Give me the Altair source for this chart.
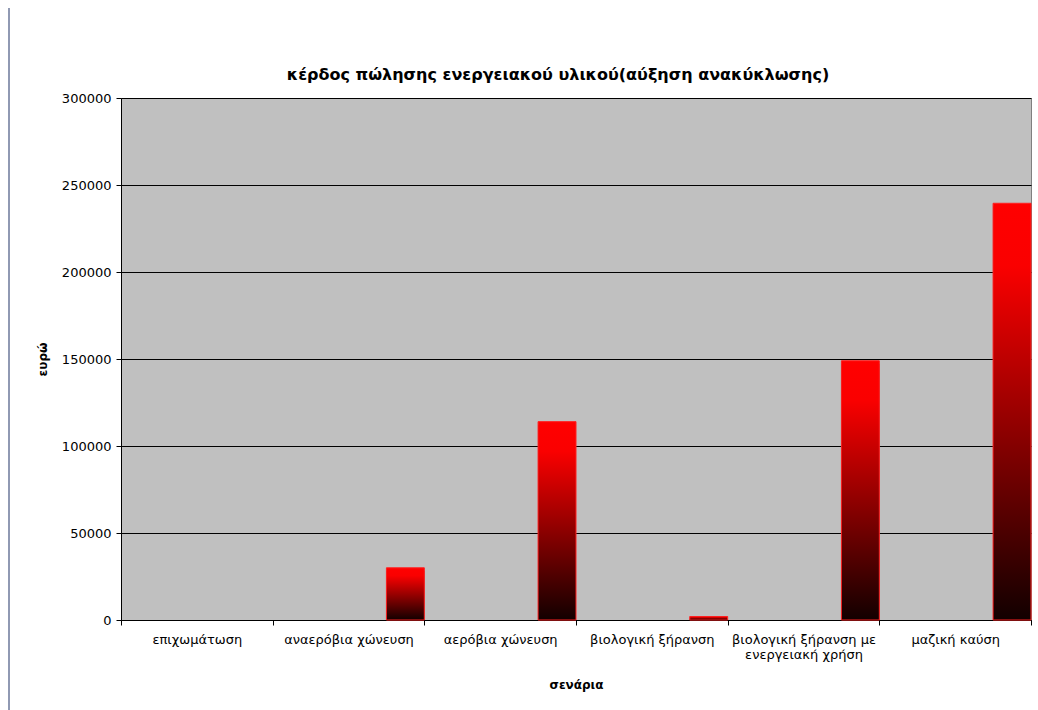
import altair as alt
import pandas as pd

categories = [
    "επιχωμάτωση",
    "αναερόβια χώνευση",
    "αερόβια χώνευση",
    "βιολογική ξήρανση",
    "βιολογική ξήρανση με ενεργειακή χρήση",
    "μαζική καύση",
]
values = [0, 30000, 114000, 2000, 149000, 239500]
series_slots = ["s1", "s2", "s3", "s4"]
series_name = "s4"
y_ticks = [0, 50000, 100000, 150000, 200000, 250000, 300000]
title_text = "κέρδος πώλησης ενεργειακού υλικού(αύξηση ανακύκλωσης)"

df = pd.DataFrame({"σενάρια": categories, "ευρώ": values, "series": series_name})

FONT = "DejaVu Sans"

x_enc = alt.X(
    "σενάρια:N",
    sort=categories,
    scale=alt.Scale(domain=categories, paddingInner=0, paddingOuter=0),
    axis=alt.Axis(
        title="σενάρια",
        titleFont=FONT,
        titleFontSize=12,
        titleFontWeight="bold",
        titleColor="black",
        titleY=59,
        titleBaseline="top",
        labelFont=FONT,
        labelFontSize=13,
        labelColor="black",
        labelAngle=0,
        labelPadding=8,
        labelLimit=300,
        labelExpr="datum.value == 'βιολογική ξήρανση με ενεργειακή χρήση' ? ['βιολογική ξήρανση με', 'ενεργειακή χρήση'] : datum.value",
        tickBand="extent",
        tickColor="black",
        tickSize=5,
        domainColor="black",
        grid=False,
    ),
)
xoff = alt.XOffset("series:N", scale=alt.Scale(domain=series_slots, paddingInner=0, paddingOuter=0))
y_enc = alt.Y(
    "ευρώ:Q",
    scale=alt.Scale(domain=[0, 300000], nice=False),
    axis=alt.Axis(
        title="ευρώ",
        titleFont=FONT,
        titleFontSize=12,
        titleFontWeight="bold",
        titleColor="black",
        titleX=-72,
        titleY=261,
        titleAngle=270,
        labelFont=FONT,
        labelFontSize=13,
        labelColor="black",
        labelPadding=5,
        values=y_ticks,
        format="d",
        tickColor="black",
        tickSize=5,
        domainColor="black",
        grid=True,
        gridColor="black",
        gridWidth=1,
    ),
)

gradient = alt.Gradient(
    gradient="linear",
    stops=[
        alt.GradientStop(color="#ff0000", offset=0),
        alt.GradientStop(color="#fa0000", offset=0.15),
        alt.GradientStop(color="#120000", offset=1),
    ],
    x1=0, x2=0, y1=0, y2=1,
)

base = alt.Chart(df).transform_filter("datum['ευρώ'] > 0")

shadow = base.mark_bar(color="black", xOffset=2, yOffset=3, clip=True).encode(
    x=x_enc, xOffset=xoff, y=y_enc
)
bars = base.mark_bar(color=gradient, stroke="#ff2020", strokeWidth=1).encode(
    x=x_enc, xOffset=xoff, y=y_enc
)
side_line = alt.Chart(df).mark_rule(color="#9099b3", strokeWidth=2).encode(
    x=alt.value(-112), y=alt.value(-90), y2=alt.value(612)
)
title_mark = alt.Chart(pd.DataFrame({"t": [title_text]})).mark_text(
    font=FONT, fontSize=16, fontWeight="bold", color="black", align="center", baseline="middle"
).encode(text="t:N", x=alt.value(437), y=alt.value(-23))

chart = (
    alt.layer(side_line, shadow, bars, title_mark)
    .properties(
        width=910,
        height=522,
        autosize=alt.AutoSizeParams(type="none"),
        padding={"left": 121, "top": 98, "right": 7, "bottom": 90},
        background="white",
    )
    .configure_view(fill="#c0c0c0", stroke="#808080", strokeWidth=1)
)

chart.save("out.html", embed_options={"renderer": "svg", "actions": False})
